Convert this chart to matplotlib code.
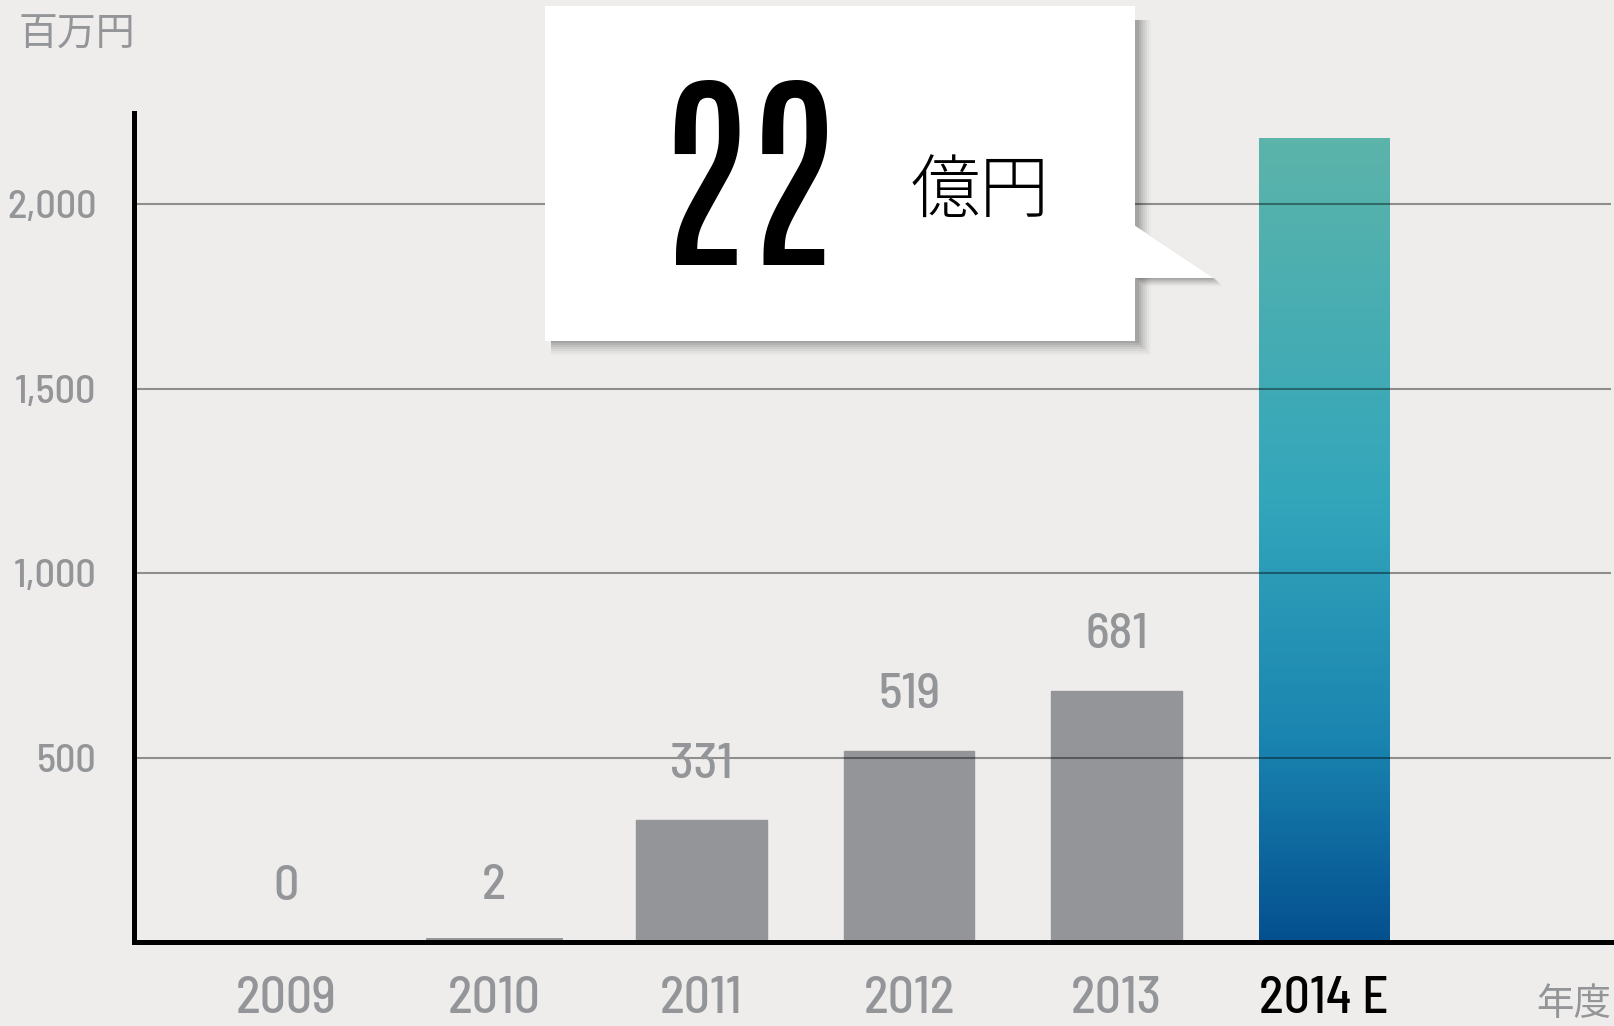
import numpy as np
import matplotlib.pyplot as plt
from matplotlib.patches import Rectangle, Polygon
from matplotlib.colors import LinearSegmentedColormap

################################################
## DATA
################################################
years = ["2009", "2010", "2011", "2012", "2013", "2014 E"]
values = [0, 2, 331, 519, 681, 2180]
yticks = [500, 1000, 1500, 2000]
unit_label = "百万円"
year_label = "年度"
callout_num = "22"
callout_unit = "億円"

################################################
## STYLE
################################################
W, H = 1615, 1026
bg = "#eeedeb"
gray = "#939598"
num_font = ["Barlow Semi Condensed", "Barlow Condensed", "DejaVu Sans"]
big_font = ["Antonio", "Barlow Condensed", "DejaVu Sans"]
cjk_font = ["Noto Sans CJK JP", "DejaVu Sans"]


def fx(px):
    return px / W


def fy(py):
    return 1 - py / H


fig = plt.figure(figsize=(W / 100, H / 100), dpi=100, facecolor=bg)
ax = fig.add_axes([fx(134), fy(942), fx(1611) - fx(134), fy(113) - fy(942)])
ax.set_facecolor(bg)

################################################
## BARS
################################################
x = np.arange(len(values))
bars = ax.bar(x[:-1], values[:-1], width=0.63, color=gray, edgecolor=gray,
              linewidth=1, zorder=1)
bars[1].set_linewidth(5)  # tiny 2010 bar, keep it visible above the axis

# gradient bar for the estimate
last = ax.bar(x[-1], values[-1], width=0.63, color="none", zorder=1)[0]
cmap = LinearSegmentedColormap.from_list(
    "grad", [(0, "#04508f"), (0.25, "#1a84b0"), (0.55, "#33a6bb"), (1, "#5cb4aa")])
grad = np.linspace(0, 1, 256).reshape(-1, 1)
bx, bw = last.get_x(), last.get_width()
im = ax.imshow(grad, cmap=cmap, origin="lower", aspect="auto",
               extent=[bx, bx + bw, 0, values[-1]], zorder=1)
im.set_clip_path(last)

for xi, v in zip(x[:-1], values[:-1]):
    ax.annotate(f"{v:,}", (xi, v), xytext=(0, 30.5), textcoords="offset points",
                ha="center", va="baseline", fontsize=36, fontweight="medium",
                color=gray, family=num_font)

################################################
## AXES
################################################
ax.set_xlim(-0.735, 6.383)
ax.set_ylim(0, 2247)
ax.set_xticks(x)
ax.set_xticklabels(years, fontsize=37, fontweight="medium", family=num_font,
                   color=gray)
ax.get_xticklabels()[-1].set_color("black")
ax.set_yticks(yticks)
ax.set_yticklabels([f"{t:,}" for t in yticks], fontsize=29, fontweight="medium",
                   family=num_font, color=gray)
ax.tick_params(axis="x", length=0, pad=24.5)
ax.tick_params(axis="y", length=0, pad=27)

for s in ["top", "right"]:
    ax.spines[s].set_visible(False)
for s in ["left", "bottom"]:
    ax.spines[s].set_linewidth(3.6)
    ax.spines[s].set_color("black")
    ax.spines[s].set_zorder(4)

ax.set_axisbelow(False)
ax.yaxis.grid(True, color="black", alpha=0.4, linewidth=1.5)
ax.xaxis.grid(False)

fig.text(fx(19), fy(55), unit_label, fontsize=28, color=gray, family=cjk_font,
         ha="left", va="bottom")
fig.text(fx(1611), fy(1024), year_label, fontsize=27, color=gray,
         family=cjk_font, ha="right", va="bottom")

################################################
## CALLOUT
################################################
L, R, T, B = 545, 1135, 6, 341
tail = [(R, 225), (1215, 278), (R, 278)]

# soft shadow
for k, a in zip(range(14, 0, -2), [0.02, 0.03, 0.04, 0.05, 0.06, 0.07, 0.08]):
    fig.add_artist(Rectangle((fx(L + 6), fy(B + k)), fx(R - L + k - 4), fy(T + 14) - fy(B + k),
                             transform=fig.transFigure, facecolor="black",
                             edgecolor="none", alpha=a, zorder=5))
    fig.add_artist(Polygon([(fx(px + k * 0.6), fy(py + k * 0.6)) for px, py in tail],
                           transform=fig.transFigure, facecolor="black",
                           edgecolor="none", alpha=a, zorder=5))

fig.add_artist(Rectangle((fx(L), fy(B)), fx(R - L), fy(T) - fy(B),
                         transform=fig.transFigure, facecolor="white",
                         edgecolor="none", zorder=6))
fig.add_artist(Polygon([(fx(px - 1), fy(py)) for px, py in tail],
                       transform=fig.transFigure, facecolor="white",
                       edgecolor="none", zorder=6))

fig.text(fx(746), fy(265), callout_num, fontsize=153, fontweight="bold",
         family=big_font, color="black", ha="center", va="baseline", zorder=7)
fig.text(fx(980), fy(193), callout_unit, fontsize=50, fontweight="light",
         family=cjk_font, color="black", ha="center", va="center", zorder=7)

fig.savefig("out.png", dpi=100, facecolor=bg)
